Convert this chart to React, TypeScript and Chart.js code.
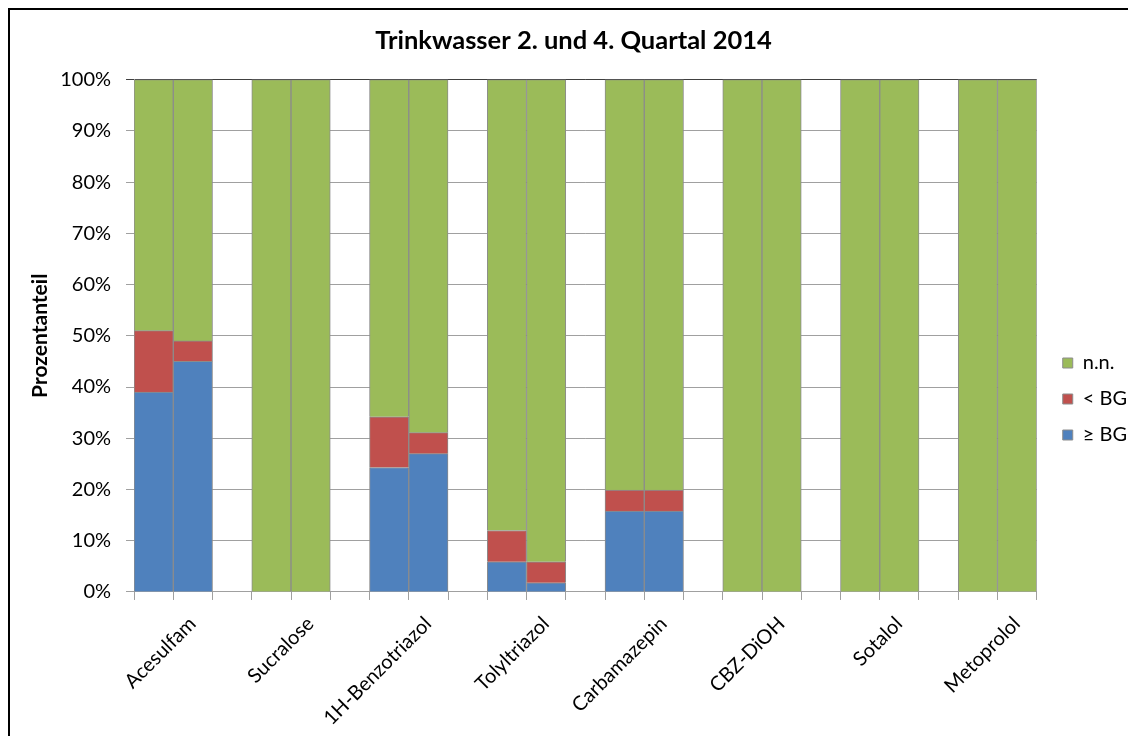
import { useEffect, useRef } from 'react';
import { Chart, registerables } from 'chart.js';

Chart.register(...registerables);

const categories = ['Acesulfam', 'Sucralose', '1H-Benzotriazol', 'Tolyltriazol', 'Carbamazepin', 'CBZ-DiOH', 'Sotalol', 'Metoprolol'];
const quarters = ['2. Quartal', '4. Quartal'];

// ≥ BG (blue)
const geBG_Q2 = [39, 0, 24.3, 5.9, 15.8, 0, 0, 0];
const geBG_Q4 = [45, 0, 27.0, 1.8, 15.8, 0, 0, 0];
// < BG (red)
const ltBG_Q2 = [12, 0, 9.9, 6.1, 4.1, 0, 0, 0];
const ltBG_Q4 = [4, 0, 4.1, 4.1, 4.1, 0, 0, 0];
// n.n. (green)
const nn_Q2 = [49, 100, 65.8, 88.0, 80.1, 100, 100, 100];
const nn_Q4 = [51, 100, 68.9, 94.1, 80.1, 100, 100, 100];

const yTickValues = [0, 10, 20, 30, 40, 50, 60, 70, 80, 90, 100];

const FONT = 'Lato, "Open Sans", sans-serif';

function slots<T>(q2: T[], q4: T[], gap: T): T[] {
  const out: T[] = [];
  categories.forEach((_, i) => {
    out.push(q2[i], q4[i]);
    if (i < categories.length - 1) out.push(gap);
  });
  return out;
}

const slotLabels = slots(
  categories.map((c) => `${c} ${quarters[0]}`),
  categories.map((c) => `${c} ${quarters[1]}`),
  ''
);
const nz = (a: number[]) => a.map((v) => (v === 0 ? null : v));

// places the legend block to the right of the plot, like the original
const legendPlace = {
  id: 'legendPlace',
  afterLayout(chart: any) {
    const l = chart.legend;
    if (!l) return;
    const w = l.width;
    const h = l.height;
    l.left = chart.chartArea.right + 10;
    l.right = l.left + w;
    l.top = 327;
    l.bottom = l.top + h;
  },
};

export default function App() {
  const ref = useRef<HTMLCanvasElement | null>(null);

  useEffect(() => {
    document.documentElement.style.overflow = 'hidden';
    document.body.style.overflow = 'hidden';
    const ctx = ref.current!;
    const border = '#8c8c8c';
    const chart = new Chart(ctx, {
      type: 'bar',
      data: {
        labels: slotLabels,
        datasets: [
          {
            label: '≥ BG',
            data: slots(nz(geBG_Q2), nz(geBG_Q4), null),
            backgroundColor: '#4F81BD',
            borderColor: border,
            borderWidth: 1,
          },
          {
            label: '< BG',
            data: slots(nz(ltBG_Q2), nz(ltBG_Q4), null),
            backgroundColor: '#C0504D',
            borderColor: border,
            borderWidth: 1,
          },
          {
            label: 'n.n.',
            data: slots(nz(nn_Q2), nz(nn_Q4), null),
            backgroundColor: '#9BBB59',
            borderColor: border,
            borderWidth: 1,
          },
        ],
      },
      plugins: [legendPlace],
      options: {
        responsive: false,
        animation: false,
        datasets: { bar: { barPercentage: 1, categoryPercentage: 1 } },
        layout: { padding: { left: 10, right: 11, top: 0, bottom: 58 } },
        plugins: {
          title: {
            display: true,
            text: 'Trinkwasser 2. und 4. Quartal 2014',
            color: '#000',
            font: { family: FONT, size: 25.5, weight: 'bold' },
            padding: { top: 15, bottom: 24 },
          },
          legend: {
            position: 'right',
            align: 'start',
            reverse: true,
            labels: {
              boxWidth: 10,
              boxHeight: 10,
              padding: 16,
              color: '#000',
              font: { family: FONT, size: 20 },
            },
          },
          tooltip: { enabled: false },
        },
        scales: {
          x: {
            stacked: true,
            offset: true,
            afterFit: (axis: any) => {
              axis.paddingLeft = 0;
              axis.paddingRight = 0;
            },
            grid: {
              offset: true,
              drawOnChartArea: false,
              drawTicks: true,
              tickLength: 8,
              color: '#a0a0a0',
            },
            border: { display: true, color: '#a0a0a0' },
            ticks: {
              autoSkip: false,
              maxRotation: 45,
              minRotation: 45,
              labelOffset: 39,
              padding: 12,
              color: '#000',
              font: { family: FONT, size: 20 },
              callback: (_v: any, i: number) => (i % 3 === 0 ? categories[i / 3] : ''),
            },
          },
          y: {
            stacked: true,
            min: 0,
            max: 100,
            afterBuildTicks: (axis: any) => {
              axis.ticks = yTickValues.map((v) => ({ value: v }));
            },
            grid: {
              tickLength: 8,
              color: (c: any) => (c.tick && c.tick.value === 100 ? '#404040' : '#a0a0a0'),
            },
            border: { display: true, color: '#a0a0a0' },
            ticks: {
              padding: 15,
              color: '#000',
              font: { family: FONT, size: 20 },
              callback: (v: any) => `${v}%`,
            },
            title: {
              display: true,
              text: 'Prozentanteil',
              color: '#000',
              font: { family: FONT, size: 21, weight: 'bold' },
              padding: { top: 8, bottom: -8 },
            },
          },
        },
      },
    });
    return () => chart.destroy();
  }, []);

  return (
    <div
      style={{
        position: 'relative',
        width: 1140,
        height: 790,
        border: '2px solid #000',
        background: '#fff',
      }}
    >
      <canvas ref={ref} width={1128} height={790} style={{ position: 'absolute', left: 0, top: 0 }} />
    </div>
  );
}
